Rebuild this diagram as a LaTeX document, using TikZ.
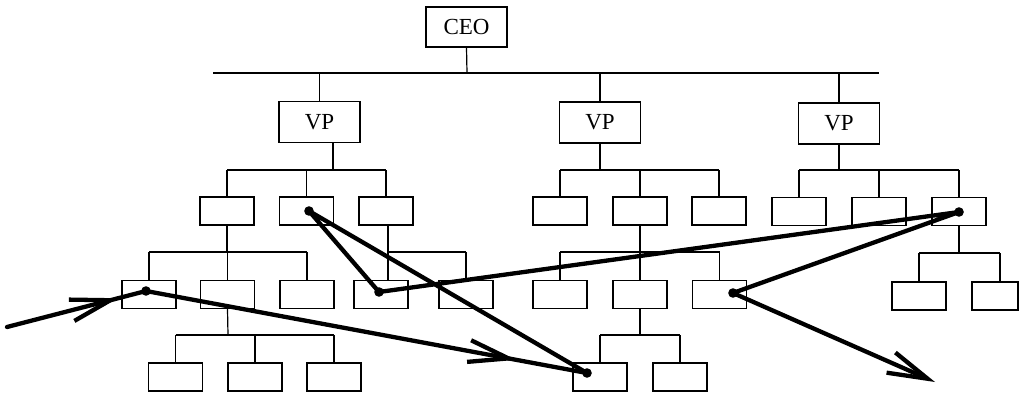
\documentclass[tikz,border=0pt]{standalone}
\usepackage{fontspec}
\setmainfont{Liberation Serif}
\usetikzlibrary{arrows.meta,decorations.markings}
\begin{document}
\begin{tikzpicture}[x=1pt,y=-1pt,
  box/.style={draw, line width=1.2pt, inner sep=0pt, minimum width=54pt, minimum height=28pt},
  big/.style={box, minimum width=81pt, minimum height=41pt, font=\fontsize{23}{27}\selectfont},
  org/.style={line width=1.2pt},
  route/.style={line width=4.3pt, line cap=round, line join=round},
  midarrow/.style={postaction={decorate}, decoration={markings, mark=at position #1 with {\arrow{>}}}},
  >={Straight Barb[length=40pt,width=22pt]}
]
\useasboundingbox (0,0) rectangle (1019,393);
\clip (0,0) rectangle (1019,393);

% top levels
\node[big, minimum height=40pt] (CEO) at (466.5,27) {CEO};
\node[big] (VP1) at (319.5,122) {VP};
\node[big] (VP2) at (600,122.5) {VP};
\node[big] (VP3) at (839,123.5) {VP};

% level 2
\node[box] (A) at (227,211) {};
\node[box] (B) at (306.5,211) {};
\node[box] (C) at (386,211) {};
\node[box] (L) at (560,211) {};
\node[box] (M) at (640,211) {};
\node[box] (N) at (719,211) {};
\node[box] (P) at (799,211.5) {};
\node[box] (Q) at (879,211.5) {};
\node[box] (R) at (959,211.5) {};

% level 3
\node[box] (D) at (149,294.5) {};
\node[box] (E) at (227.5,294.5) {};
\node[box] (F) at (307,294.5) {};
\node[box] (J) at (381,294.5) {};
\node[box] (K) at (466,294.5) {};
\node[box] (U) at (560,294.5) {};
\node[box] (V) at (640,294.5) {};
\node[box] (W) at (719.5,294.5) {};
\node[box] (S) at (919,296) {};
\node[box, minimum width=46pt] (T) at (995,296) {};

% level 4
\node[box] (G) at (175.5,377) {};
\node[box] (H) at (255,377) {};
\node[box] (I) at (334,377) {};
\node[box] (X) at (600,377) {};
\node[box] (Y) at (680,377) {};

% org connectors
\coordinate (b0) at (467,73);
\coordinate (b0l) at (213,73);
\coordinate (b0r) at (879,73);
\draw[org] (CEO.south) -- (b0);
\draw[org] (b0l) -- (b0r);
\foreach \c in {VP1,VP2,VP3} \draw[org] (\c.north) -- (\c.north |- b0);

\coordinate (b1) at (333,170);
\draw[org] (VP1.south -| b1) -- (b1);
\draw[org] (A.north |- b1) -- (C.north |- b1);
\foreach \c in {A,B,C} \draw[org] (\c.north) -- (\c.north |- b1);

\coordinate (b2) at (600,170);
\draw[org] (VP2.south) -- (b2);
\draw[org] (L.north |- b2) -- (N.north |- b2);
\foreach \c in {L,M,N} \draw[org] (\c.north) -- (\c.north |- b2);

\coordinate (b3) at (839,170);
\draw[org] (VP3.south) -- (b3);
\draw[org] (P.north |- b3) -- (R.north |- b3);
\foreach \c in {P,Q,R} \draw[org] (\c.north) -- (\c.north |- b3);

\coordinate (b4) at (227,252);
\draw[org] (A.south) -- (b4);
\draw[org] (D.north |- b4) -- (F.north |- b4);
\foreach \c in {D,E,F} \draw[org] (\c.north) -- (\c.north |- b4);

\coordinate (b5) at (388,252);
\draw[org] (C.south -| b5) -- (J.north -| b5);
\draw[org] (b5) -- (K.north |- b5);
\draw[org] (K.north) -- (K.north |- b5);

\coordinate (b6) at (640,252);
\draw[org] (M.south) -- (b6);
\draw[org] (U.north |- b6) -- (W.north |- b6);
\foreach \c in {U,V,W} \draw[org] (\c.north) -- (\c.north |- b6);

\coordinate (b7) at (959,253);
\coordinate (tT) at (1000,253);
\draw[org] (R.south) -- (b7);
\draw[org] (S.north |- b7) -- (tT);
\draw[org] (S.north) -- (S.north |- b7);
\draw[org] (T.north -| tT) -- (tT);

\coordinate (b8) at (228,335);
\draw[org] (E.south) -- (b8);
\draw[org] (G.north |- b8) -- (I.north |- b8);
\foreach \c in {G,H,I} \draw[org] (\c.north) -- (\c.north |- b8);

\coordinate (b9) at (640,335);
\draw[org] (V.south) -- (b9);
\draw[org] (X.north |- b9) -- (Y.north |- b9);
\foreach \c in {X,Y} \draw[org] (\c.north) -- (\c.north |- b9);

% route
\coordinate (start) at (7,327);
\coordinate (dD) at (146,291);
\coordinate (dX) at (587,373);
\coordinate (dB) at (309,211);
\coordinate (dJ) at (379,292);
\coordinate (dR) at (959,212);
\coordinate (dW) at (733,293);
\coordinate (finish) at (935,382);

\draw[route, midarrow=0.8] (start) -- (dD);
\draw[route, midarrow=0.84] (dD) -- (dX);
\draw[route] (dX) -- (dB) -- (dJ) -- (dR) -- (dW);
\draw[route, ->] (dW) -- (finish);
\foreach \p in {dD,dX,dB,dJ,dR,dW} \fill (\p) circle (4.8pt);
\end{tikzpicture}
\end{document}
